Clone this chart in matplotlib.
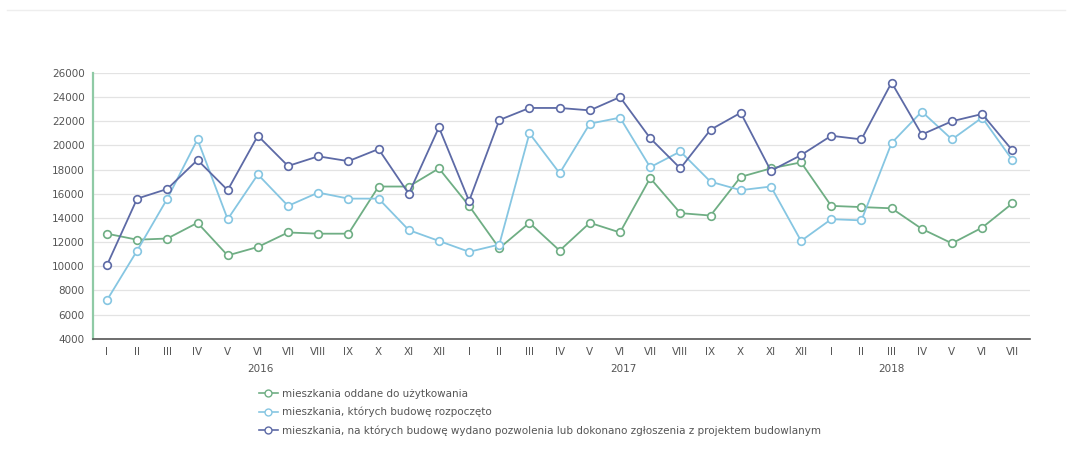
import matplotlib.pyplot as plt
from matplotlib.lines import Line2D

months = ['I', 'II', 'III', 'IV', 'V', 'VI', 'VII', 'VIII', 'IX', 'X', 'XI', 'XII',
          'I', 'II', 'III', 'IV', 'V', 'VI', 'VII', 'VIII', 'IX', 'X', 'XI', 'XII',
          'I', 'II', 'III', 'IV', 'V', 'VI', 'VII']
years = ['2016', '2017', '2018']
year_pos = [5.1, 17.1, 26.0]

oddane = [12700, 12200, 12300, 13600, 10900, 11600, 12800, 12700, 12700, 16600, 16600, 18100,
          15000, 11500, 13600, 11300, 13600, 12800, 17300, 14400, 14200, 17400, 18100, 18600,
          15000, 14900, 14800, 13100, 11900, 13200, 15200]
rozpoczete = [7200, 11300, 15600, 20500, 13900, 17600, 15000, 16100, 15600, 15600, 13000, 12100,
              11200, 11800, 21000, 17700, 21800, 22300, 18200, 19500, 17000, 16300, 16600, 12100,
              13900, 13800, 20200, 22800, 20500, 22300, 18800]
pozwolenia = [10100, 15600, 16400, 18800, 16300, 20800, 18300, 19100, 18700, 19700, 16000, 21500,
              15400, 22100, 23100, 23100, 22900, 24000, 20600, 18100, 21300, 22700, 17900, 19200,
              20800, 20500, 25200, 20900, 22000, 22600, 19600]

labels = ['mieszkania oddane do użytkowania',
          'mieszkania, których budowę rozpoczęto',
          'mieszkania, na których budowę wydano pozwolenia lub dokonano zgłoszenia z projektem budowlanym']
colors = ['#6fae84', '#86c6e2', '#5d6aa6']

fig = plt.figure(figsize=(10.7, 4.5), dpi=100)
ax = fig.add_axes([0.087, 0.247, 0.876, 0.591])

x = range(len(months))
for vals, c in zip([oddane, rozpoczete, pozwolenia], colors):
    ax.plot(x, vals, color=c, lw=1.3, marker='o', ms=5.5, mfc='white', mec=c, mew=1.2)

ax.set_ylim(4000, 26000)
ax.set_yticks(range(4000, 26001, 2000))
ax.set_xlim(-0.46, 30.6)
ax.set_xticks(list(x))
ax.set_xticklabels(months)
ax.tick_params(axis='both', labelsize=7.5, colors='#555555', length=0, pad=6)
ax.grid(axis='y', color='#e3e3e3', lw=0.9)
ax.set_axisbelow(True)
for s in ['top', 'right']:
    ax.spines[s].set_visible(False)
ax.spines['left'].set_color('#8fcaa5')
ax.spines['left'].set_linewidth(1.6)
ax.spines['bottom'].set_color('#555555')
ax.spines['bottom'].set_linewidth(1.2)

for yr, p in zip(years, year_pos):
    ax.text(p, -0.095, yr, transform=ax.get_xaxis_transform(), ha='center', va='top',
            fontsize=7.5, color='#555555')

handles = [Line2D([0], [0], color=c, lw=1.2, marker='o', ms=5, mfc='white', mec=c)
           for c in colors]
fig.legend(handles, labels, loc='upper left', bbox_to_anchor=(0.238, 0.145), frameon=False,
           fontsize=7.5, labelcolor='#555555', handlelength=1.8, handletextpad=0.4,
           labelspacing=0.75, borderaxespad=0)

fig.add_artist(Line2D([0.007, 0.995], [0.977, 0.977], color='#eeeeee', lw=1))

fig.savefig('out.png', dpi=100)
